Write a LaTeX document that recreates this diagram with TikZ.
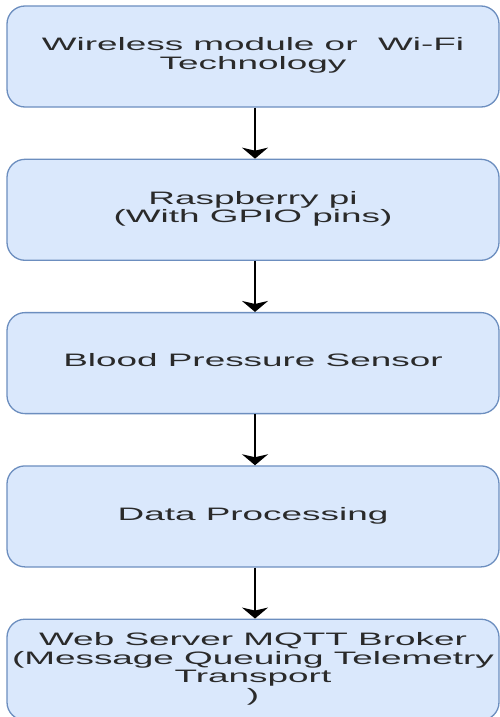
\documentclass[tikz,border=0pt]{standalone}
\usepackage{fontspec}
\setmainfont{Liberation Sans}
\usetikzlibrary{positioning,arrows.meta}

\definecolor{boxfill}{HTML}{DAE8FC}
\definecolor{boxline}{HTML}{6C8EBF}
\definecolor{textgrey}{HTML}{2A2A2A}
\def\sx{2.05}
\newcommand{\widetext}[1]{\scalebox{\sx}[1]{\fontsize{18}{18.5}\selectfont\begin{tabular}{@{}c@{}}#1\end{tabular}}}

\begin{document}
\begin{tikzpicture}[x=1pt,y=1pt,
	>={Stealth[width=26pt,length=11pt,inset=3pt]},
	block/.style={draw=boxline,fill=boxfill,line width=1.3pt,rounded corners=18pt,
		minimum width=492pt,minimum height=101pt,inner sep=0pt,text=textgrey},
	node distance=51pt]
\useasboundingbox (0,0) rectangle (500,-717);

\node[block] (wifi) at (253,-56.5) {\widetext{Wireless module or\ \ Wi-Fi\\Technology}};
\node[block,below=of wifi] (rpi) {\widetext{Raspberry pi\\(With GPIO pins)}};
\node[block,below=of rpi] (bps) {\widetext{Blood Pressure Sensor}};
\node[block,below=of bps] (proc) {\widetext{Data Processing}};
\node[block,below=of proc] (mqtt) {\widetext{Web Server MQTT Broker\\(Message Queuing Telemetry\\Transport\\)}};

\foreach \a/\b in {wifi/rpi,rpi/bps,bps/proc,proc/mqtt}
	\draw[->,line width=1.6pt] ([xshift=2pt]\a.south) -- ([xshift=2pt]\b.north);
\end{tikzpicture}
\end{document}
